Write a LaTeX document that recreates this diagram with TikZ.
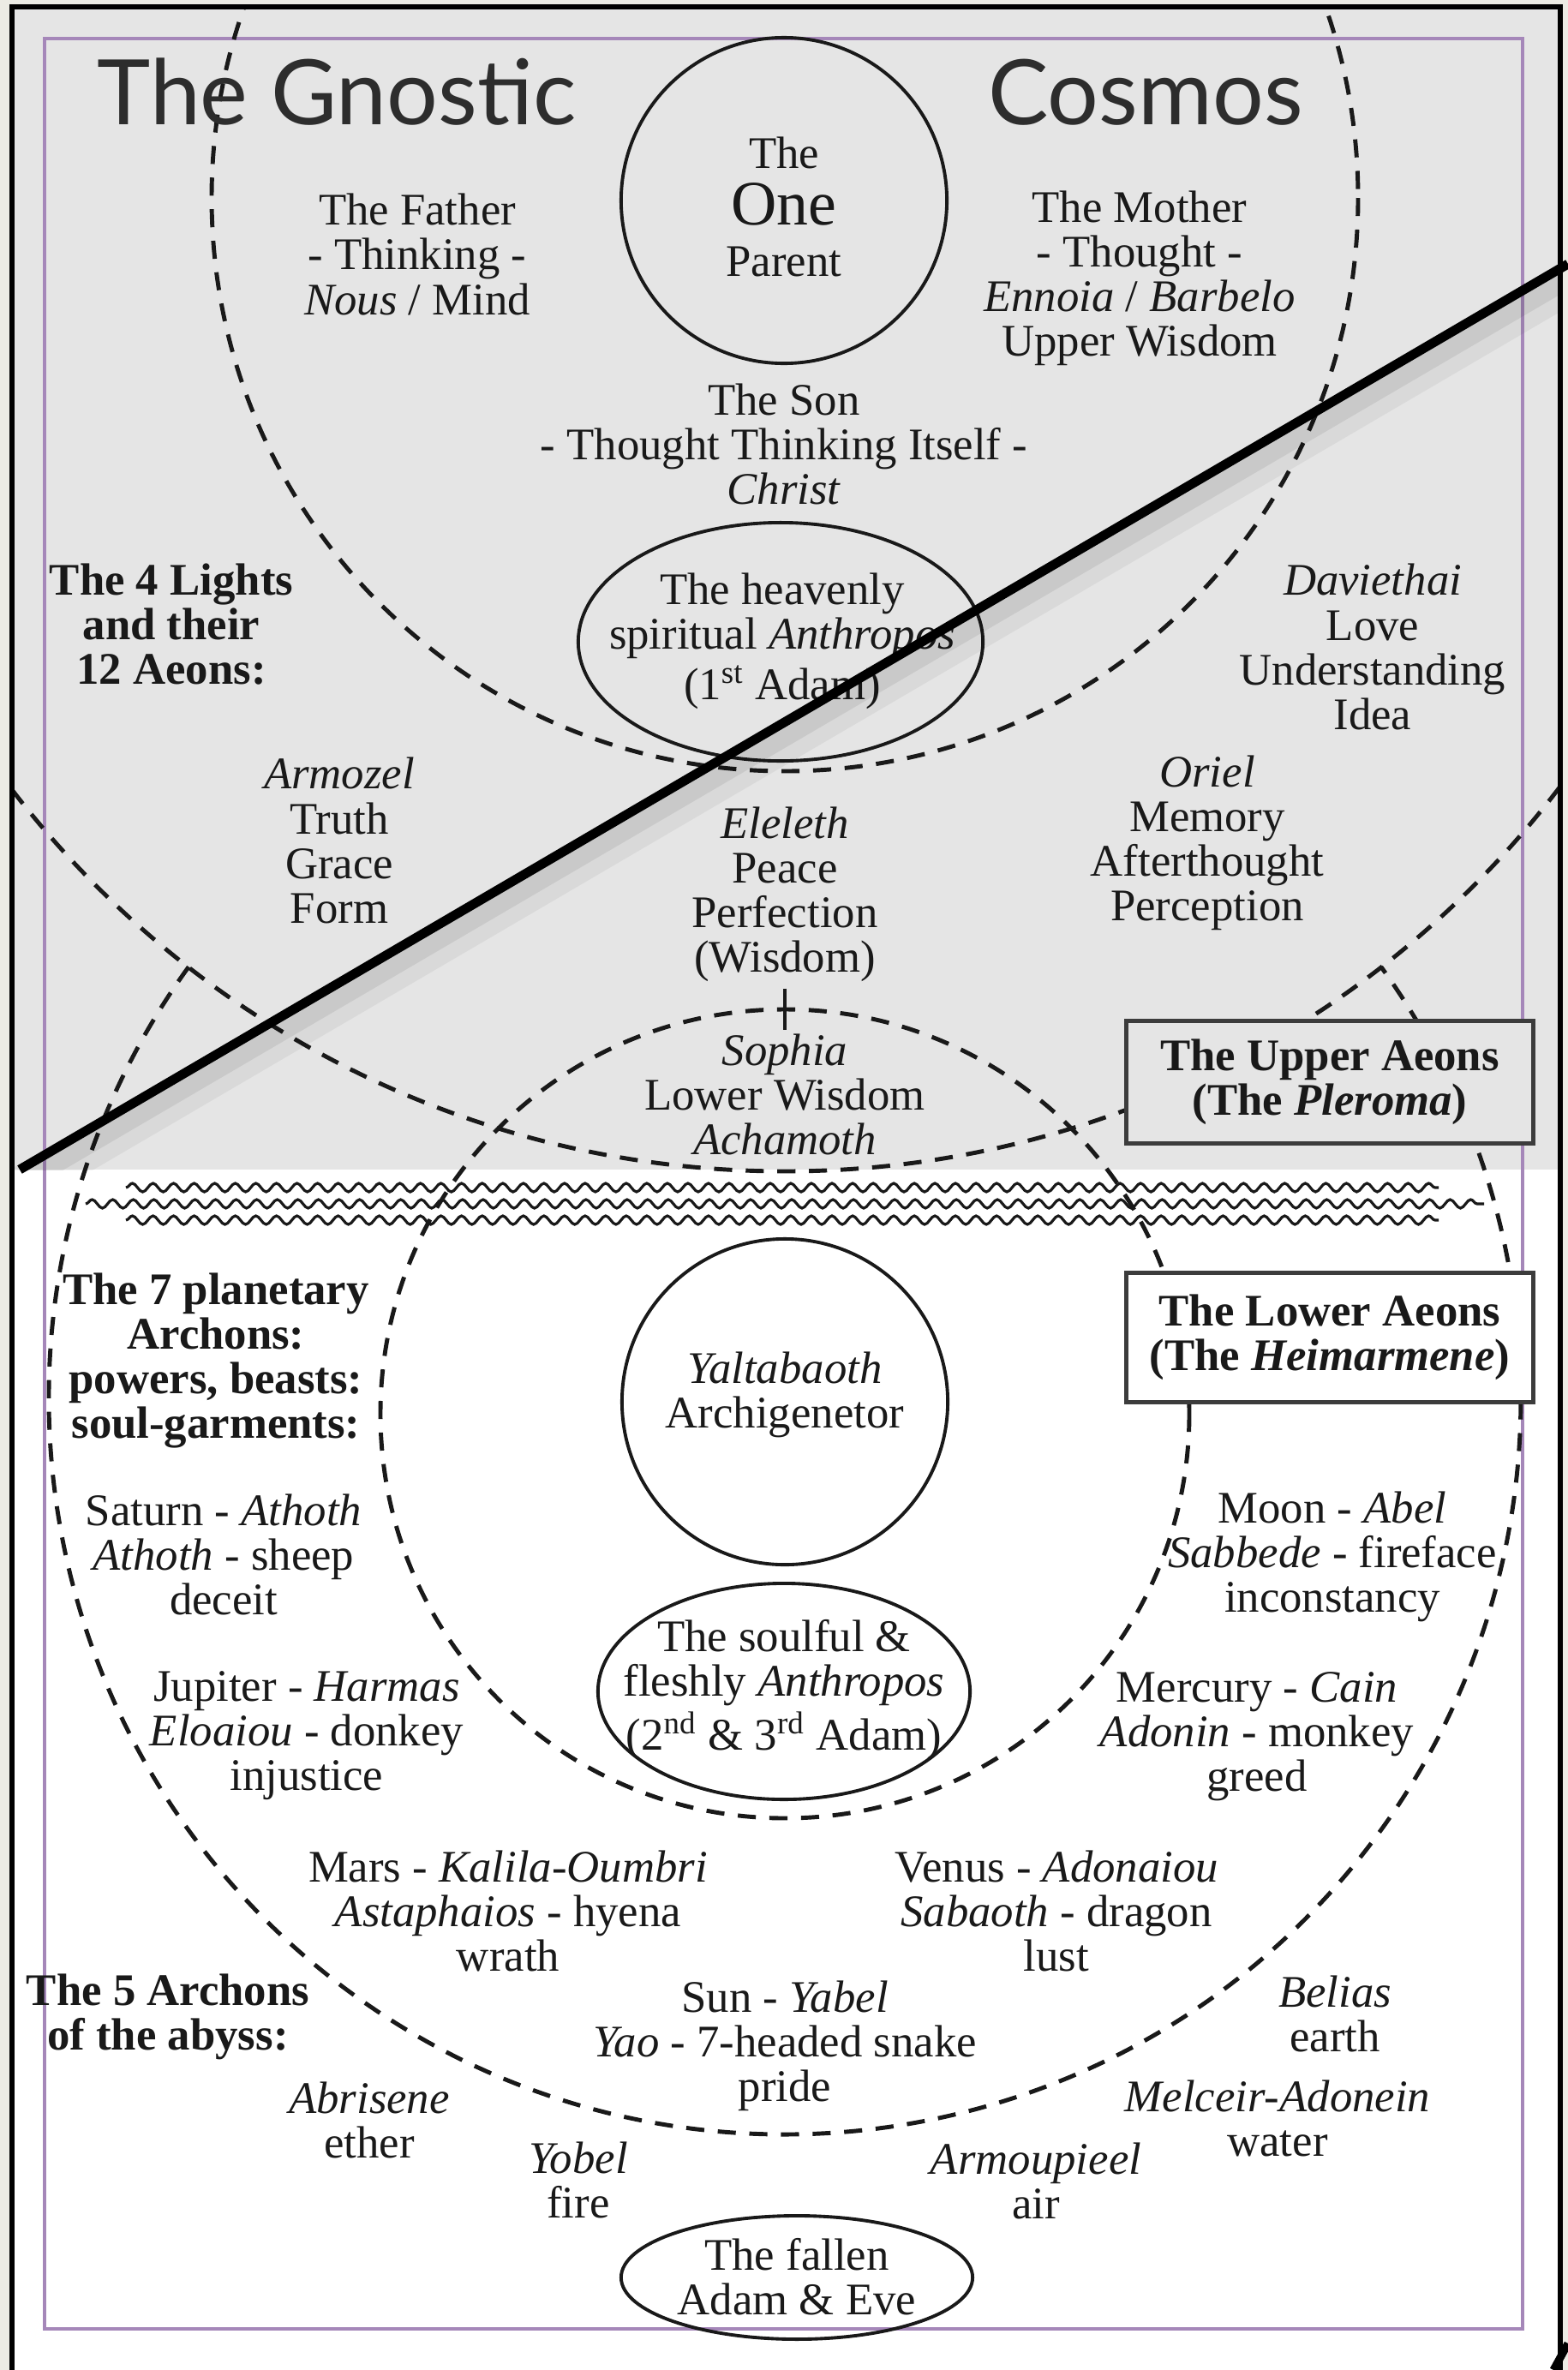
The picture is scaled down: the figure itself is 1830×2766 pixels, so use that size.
\documentclass[tikz,border=0pt]{standalone}
\usepackage{fontspec}
\setmainfont{Liberation Serif}
\newfontfamily\titlefont{Lato}
\usetikzlibrary{decorations.pathmorphing,shapes.geometric}
\definecolor{ink}{RGB}{25,25,25}
\definecolor{titleink}{RGB}{45,45,45}
\definecolor{graybg}{RGB}{229,229,229}
\definecolor{beige}{RGB}{236,235,228}
\definecolor{purp}{RGB}{165,135,185}
\begin{document}
\begin{tikzpicture}[x=0.01cm,y=-0.01cm,
  txt/.style={font=\fontsize{15pt}{14.8pt}\selectfont, align=center, inner sep=0pt, text=ink},
  bld/.style={txt, font=\fontsize{15pt}{14.8pt}\selectfont\bfseries},
  dashline/.style={line width=1.4pt, dash pattern=on 6pt off 4.5pt, draw=ink},
  shp/.style={draw=ink, line width=1.1pt, inner sep=0pt},
  boxlabel/.style={bld, draw=ink!85, line width=1.6pt},
  wave/.style={decorate, decoration={snake, segment length=0.24cm, amplitude=0.05cm}, line width=0.9pt, draw=ink}]
\useasboundingbox (0,0) rectangle (1830,2766);
% backgrounds
\fill[beige] (0,0) rectangle (1830,2766);
\fill[white] (14,8) rectangle (1821,2766);
\fill[graybg] (14,8) rectangle (1821,1365);
% purple frame
\draw[purp, line width=0.9pt] (52,45) rectangle (1777,2718);
% black frame
\draw[line width=1.7pt, black] (14,2766) -- (14,8) -- (1821,8) -- (1821,2766);
\draw[line width=2.6pt, black] (1813,2766) -- (1830,2735);
% dashed rings
\begin{scope}
  \clip (17,11) rectangle (1818,2766);
  \draw[dashline] (916,231) circle[radius=669];
  \draw[dashline] (916,231) circle[radius=1136];
  \draw[dashline] (916,1632) ++(215.9:859) arc[start angle=215.9, end angle=-35.9, radius=859];
  \draw[dashline] (916,1650) circle[radius=472];
\end{scope}
% waves
\draw[wave] (147,1386) -- (1679,1386);
\draw[wave] (100,1405) -- (1732,1405);
\draw[wave] (147,1424) -- (1679,1424);
% title
\node[font=\titlefont\fontsize{30pt}{30pt}\selectfont, anchor=base, inner sep=0pt, text=titleink] (title1) at (393,145) {The Gnostic};
\node[font=\titlefont\fontsize{30pt}{30pt}\selectfont, anchor=base, inner sep=0pt, text=titleink] (title2) at (1337,145) {Cosmos};
% upper aeons
\node[circle, shp, minimum size=3.8cm] (one) at (915,234) {};
\node[txt] (onethe) at (915,178) {The};
\node[txt, font=\fontsize{21pt}{21pt}\selectfont] (onename) at (915,238) {One};
\node[txt] (parent) at (915,305) {Parent};
\node[txt] (father) at (487,297) {The Father\\- Thinking -\\\textit{Nous} / Mind};
\node[txt] (mother) at (1330,325) {The Mother\\- Thought -\\\textit{Ennoia} / \textit{Barbelo}\\Upper Wisdom};
\node[txt] (son) at (915,518) {The Son\\- Thought Thinking Itself -\\\textit{Christ}};
\node[ellipse, shp, minimum width=4.72cm, minimum height=2.78cm] (heav) at (911,749) {};
\node[txt] (heavtxt) at (913,748) {The heavenly\\spiritual \textit{Anthropos}\\[2pt](1\textsuperscript{st} Adam)};
\node[bld] (lights) at (200,729) {The 4 Lights\\and their\\12 Aeons:};
\node[txt] (davie) at (1602,755) {\textit{Daviethai}\\Love\\Understanding\\Idea};
\node[txt] (armozel) at (396,981) {\textit{Armozel}\\Truth\\Grace\\Form};
\node[txt] (eleleth) at (916,1044) {\textit{Eleleth}\\Peace\\Perfection\\(Wisdom)};
\node[txt] (oriel) at (1409,984) {\textit{Oriel}\\Memory\\Afterthought\\Perception};
\node[txt] (sophia) at (916,1277) {\textit{Sophia}\\Lower Wisdom\\\textit{Achamoth}};
\draw[ink, line width=1.1pt, shorten <=2pt, shorten >=1pt] (eleleth.south) -- (sophia.north);
\node[boxlabel, fill=graybg, minimum width=4.75cm, minimum height=1.43cm] (upper) at (1552,1263) {The Upper Aeons\\(The \textit{Pleroma})};
% lower aeons
\node[boxlabel, fill=white, minimum width=4.75cm, minimum height=1.51cm] (lower) at (1552,1561) {The Lower Aeons\\(The \textit{Heimarmene})};
\node[bld] (seven) at (252,1588) {The 7 planetary\\Archons:\\powers, beasts:\\soul-garments:};
\node[circle, shp, minimum size=3.8cm] (yalt) at (916,1636) {};
\node[txt] (yalttxt) at (916,1628) {\textit{Yaltabaoth}\\Archigenetor};
\node[txt] (saturn) at (261,1814) {Saturn - \textit{Athoth}\\\textit{Athoth} - sheep\\deceit};
\node[txt] (moon) at (1555,1817) {Moon - \textit{Abel}\\\textit{Sabbede} - fireface\\inconstancy};
\node[ellipse, shp, minimum width=4.34cm, minimum height=2.52cm] (soul) at (915,1974) {};
\node[txt] (soultxt) at (915,1972) {The soulful \&\\fleshly \textit{Anthropos}\\[1pt](2\textsuperscript{nd} \& 3\textsuperscript{rd} Adam)};
\node[txt] (jupiter) at (358,2026) {Jupiter - \textit{Harmas}\\\textit{Eloaiou} - donkey\\injustice};
\node[txt] (mercury) at (1467,2027) {Mercury - \textit{Cain}\\\textit{Adonin} - monkey\\greed};
\node[txt] (mars) at (593,2230) {Mars - \textit{Kalila-Oumbri}\\\textit{Astaphaios} - hyena\\wrath};
\node[txt] (venus) at (1233,2230) {Venus - \textit{Adonaiou}\\\textit{Sabaoth} - dragon\\lust};
\node[bld] (five) at (196,2354) {The 5 Archons\\of the abyss:};
\node[txt] (sun) at (916,2388) {Sun - \textit{Yabel}\\\textit{Yao} - 7-headed snake\\pride};
\node[txt] (belias) at (1558,2350) {\textit{Belias}\\earth};
\node[txt] (abrisene) at (431,2474) {\textit{Abrisene}\\ether};
\node[txt] (melceir) at (1491,2472) {\textit{Melceir-Adonein}\\water};
\node[txt] (yobel) at (675,2544) {\textit{Yobel}\\fire};
\node[txt] (armoup) at (1209,2545) {\textit{Armoupieel}\\air};
\node[ellipse, shp, minimum width=4.1cm, minimum height=1.44cm] (fallen) at (930,2658) {};
\node[txt] (fallentxt) at (930,2657) {The fallen\\Adam \& Eve};
% diagonal line with soft shadow
\coordinate (diagA) at (23,1365);
\coordinate (diagB) at (1830,308);
\begin{scope}
  \clip (14,8) rectangle (1821,1365);
  \draw[line width=14pt, black, opacity=0.05, transform canvas={yshift=-0.22cm}] (diagA) -- (diagB);
  \draw[line width=7pt, black, opacity=0.07, transform canvas={yshift=-0.16cm}] (diagA) -- (diagB);
\end{scope}
\draw[line width=3.1pt, black] (diagA) -- (diagB);
\end{tikzpicture}
\end{document}
